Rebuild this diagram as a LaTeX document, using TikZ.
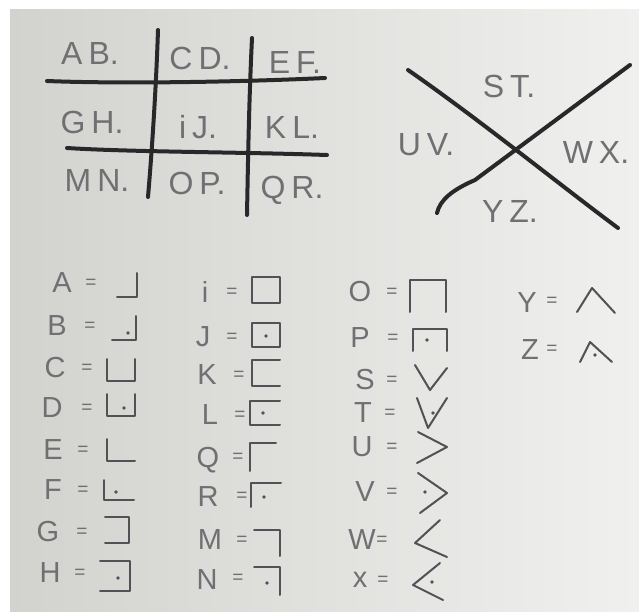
\documentclass[tikz,border=0pt]{standalone}
\usepackage{fontspec}
\setmainfont{Liberation Sans}
\definecolor{inkdark}{RGB}{40,40,43}
\definecolor{inkmid}{RGB}{82,82,86}
\definecolor{pencil}{RGB}{112,112,115}
\definecolor{paperL}{RGB}{210,211,207}
\definecolor{paperR}{RGB}{240,240,238}
\newcommand\gsp{\hspace{6pt}}
\begin{document}
\begin{tikzpicture}[x=1pt,y=-1pt,
  gridline/.style={line width=4pt, draw=inkdark, line cap=round},
  glyph/.style={line width=2pt, draw=inkmid, line cap=round, line join=round},
  big/.style={text=pencil, font=\fontsize{32}{32}\selectfont, inner sep=0pt},
  small/.style={text=pencil, font=\fontsize{29}{29}\selectfont, inner sep=0pt},
  eq/.style={text=pencil, font=\fontsize{19}{19}\selectfont, inner sep=0pt},
  pdot/.style={fill=inkmid}]
\useasboundingbox (0,0) rectangle (639,612);
\fill[white] (0,0) rectangle (639,612);
\shade[left color=paperL, right color=paperR] (10,10) rectangle (639,612);

% ---- tic-tac-toe grid ----
\draw[gridline] (158,30) .. controls (156,90) and (152,150) .. (148,197);
\draw[gridline] (252,38) .. controls (249,100) and (248,160) .. (247,215);
\draw[gridline] (47,81) .. controls (120,84) and (240,82) .. (325,78);
\draw[gridline] (67,148) .. controls (130,152) and (240,152) .. (327,155);
\node[big] (gAB) at (90,53) {A\gsp B.};
\node[big] (gCD) at (200,58) {C\gsp D.};
\node[big] (gEF) at (295,62) {E\gsp F.};
\node[big] (gGH) at (92,122) {G\gsp H.};
\node[big] (gIJ) at (198,127) {i\gsp J.};
\node[big] (gKL) at (292,127) {K\gsp L.};
\node[big] (gMN) at (97,180) {M\gsp N.};
\node[big] (gOP) at (197,183) {O\gsp P.};
\node[big] (gQR) at (292,190) {Q\gsp R.};

% ---- X grid ----
\draw[gridline] (408,70) .. controls (480,120) and (560,185) .. (618,228);
\draw[gridline] (437,213) .. controls (440,200) and (452,190) .. (475,180) -- (630,65);
\node[big] (xST) at (509,86) {S\gsp T.};
\node[big] (xUV) at (426,145) {U\gsp V.};
\node[big] (xWX) at (596,152) {W\gsp X.};
\node[big] (xYZ) at (510,211) {Y\gsp Z.};

% ---- column 1 ----
\node[small] (lA) at (62,283) {A}; \node[eq] (eA) at (91,284) {=};
\node[small] (lB) at (57,326) {B}; \node[eq] (eB) at (90,327) {=};
\node[small] (lC) at (55,368) {C}; \node[eq] (eC) at (87,369) {=};
\node[small] (lD) at (52,408) {D}; \node[eq] (eD) at (87,409) {=};
\node[small] (lE) at (53,450) {E}; \node[eq] (eE) at (83,451) {=};
\node[small] (lF) at (53,490) {F}; \node[eq] (eF) at (83,491) {=};
\node[small] (lG) at (48,532) {G}; \node[eq] (eG) at (82,533) {=};
\node[small] (lH) at (50,573) {H}; \node[eq] (eH) at (80,574) {=};
\draw[glyph,shift={(127,285)}] (-10,12)--(10,12)--(10,-12);
\draw[glyph,shift={(124,328)}] (-12,12)--(12,12)--(12,-12); \fill[pdot] (128,333) circle (1.8);
\draw[glyph,shift={(121,370)}] (-14,-11)--(-14,11)--(14,11)--(14,-11);
\draw[glyph,shift={(121,405)}] (-14,-11)--(-14,11)--(14,11)--(14,-11); \fill[pdot] (124,408) circle (1.8);
\draw[glyph,shift={(121,450)}] (-14,-11)--(-14,11)--(14,11);
\draw[glyph,shift={(119,490)}] (-15,-10)--(-15,10)--(15,10); \fill[pdot] (116,492) circle (1.8);
\draw[glyph,shift={(117,530)}] (-12,-13)--(12,-13)--(12,13)--(-12,13);
\draw[glyph,shift={(115,576)}] (-15,-15)--(15,-15)--(15,15)--(-15,15); \fill[pdot] (118,578) circle (1.8);

% ---- column 2 ----
\node[small] (li) at (205,292) {i}; \node[eq] (ei) at (232,293) {=};
\node[small] (lJ) at (203,337) {J}; \node[eq] (eJ) at (232,338) {=};
\node[small] (lK) at (207,375) {K}; \node[eq] (eK) at (239,376) {=};
\node[small] (lL) at (210,415) {L}; \node[eq] (eL) at (240,416) {=};
\node[small] (lQ) at (208,460) {Q}; \node[eq] (eQ) at (238,458) {=};
\node[small] (lR) at (208,497) {R}; \node[eq] (eR) at (242,497) {=};
\node[small] (lM) at (210,540) {M}; \node[eq] (eM) at (242,541) {=};
\node[small] (lN) at (207,580) {N}; \node[eq] (eN) at (238,579) {=};
\draw[glyph,shift={(266,290)}] (-14,-13) rectangle (14,13);
\draw[glyph,shift={(266,335)}] (-14,-12) rectangle (14,12); \fill[pdot] (266,336) circle (1.8);
\draw[glyph,shift={(266,373)}] (14,-13)--(-14,-13)--(-14,13)--(14,13);
\draw[glyph,shift={(265,413)}] (15,-12)--(-15,-12)--(-15,12)--(15,12); \fill[pdot] (263,413) circle (1.8);
\draw[glyph,shift={(263,457)}] (-13,14)--(-13,-14)--(13,-14);
\draw[glyph,shift={(266,495)}] (-15,12)--(-15,-12)--(15,-12); \fill[pdot] (264,497) circle (1.8);
\draw[glyph,shift={(267,543)}] (-13,-13)--(13,-13)--(13,13);
\draw[glyph,shift={(267,581)}] (-13,-14)--(13,-14)--(13,14); \fill[pdot] (267,583) circle (1.8);

% ---- column 3 ----
\node[small] (lO) at (360,292) {O}; \node[eq] (eO) at (392,293) {=};
\node[small] (lP) at (360,338) {P}; \node[eq] (eP) at (393,339) {=};
\node[small] (lS) at (365,380) {S}; \node[eq] (eS) at (392,381) {=};
\node[small] (lT) at (363,413) {T}; \node[eq] (eT) at (390,414) {=};
\node[small] (lU) at (362,447) {U}; \node[eq] (eU) at (392,448) {=};
\node[small] (lV) at (365,492) {V}; \node[eq] (eV) at (392,493) {=};
\node[small] (lW) at (362,540) {W}; \node[eq] (eW) at (382,541) {=};
\node[small] (lX) at (360,580) {x}; \node[eq] (eX) at (383,581) {=};
\draw[glyph,shift={(428,296)}] (-18,16)--(-18,-16)--(18,-16)--(18,16);
\draw[glyph,shift={(430,340)}] (-17,11)--(-17,-11)--(17,-11)--(17,11); \fill[pdot] (427,340) circle (1.8);
\draw[glyph] (415,365)--(430,390)--(447,368);
\draw[glyph] (417,398)--(428,428)--(447,398); \fill[pdot] (433,413) circle (1.8);
\draw[glyph] (418,432)--(447,447)--(417,463);
\draw[glyph] (418,473)--(447,493)--(420,513); \fill[pdot] (425,492) circle (1.8);
\draw[glyph] (440,520)--(415,543)--(447,557);
\draw[glyph] (440,563)--(413,585)--(443,600); \fill[pdot] (432,582) circle (1.8);

% ---- column 4 ----
\node[small] (lY) at (527,303) {Y}; \node[eq] (eY) at (552,302) {=};
\node[small] (lZ) at (530,350) {Z}; \node[eq] (eZ) at (552,350) {=};
\draw[glyph] (577,312)--(592,288)--(615,313);
\draw[glyph] (580,362)--(590,342)--(612,362); \fill[pdot] (595,355) circle (1.8);
\end{tikzpicture}
\end{document}
